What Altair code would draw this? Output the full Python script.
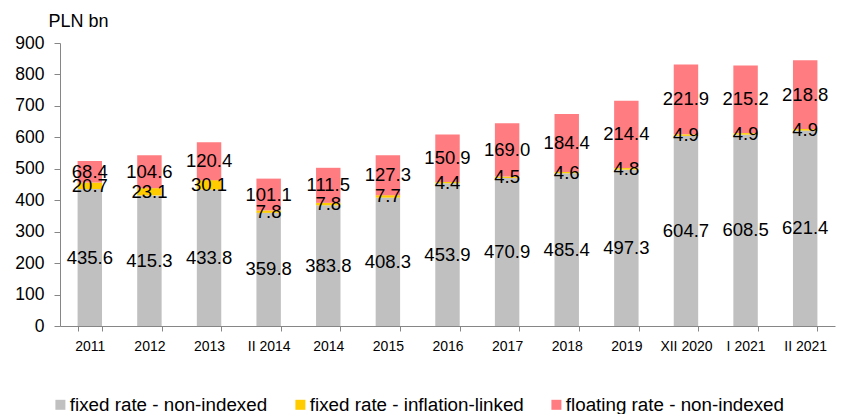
import altair as alt
import pandas as pd

categories = ["2011", "2012", "2013", "II 2014", "2014", "2015", "2016", "2017",
              "2018", "2019", "XII 2020", "I 2021", "II 2021"]
series_names = ["fixed rate - non-indexed", "fixed rate - inflation-linked",
                "floating rate - non-indexed"]
fixed_non_indexed = [435.6, 415.3, 433.8, 359.8, 383.8, 408.3, 453.9, 470.9,
                     485.4, 497.3, 604.7, 608.5, 621.4]
fixed_inflation = [20.7, 23.1, 30.1, 7.8, 7.8, 7.7, 4.4, 4.5, 4.6, 4.8, 4.9, 4.9, 4.9]
floating_non_indexed = [68.4, 104.6, 120.4, 101.1, 111.5, 127.3, 150.9, 169.0,
                        184.4, 214.4, 221.9, 215.2, 218.8]
colors = ["#C0C0C0", "#FFCC00", "#FF7C80"]
y_ticks = [0, 100, 200, 300, 400, 500, 600, 700, 800, 900]

rows = []
for s_idx, (name, vals) in enumerate(zip(series_names,
                                         [fixed_non_indexed, fixed_inflation, floating_non_indexed])):
    for c, v in zip(categories, vals):
        rows.append({"category": c, "series": name, "value": v, "order": s_idx})
df = pd.DataFrame(rows)

FONT = "Liberation Sans"

x_scale = alt.Scale(paddingInner=0.59, paddingOuter=0.295)
x_axis = alt.Axis(labelAngle=0, labelFontSize=14, labelColor="#000000",
                  labelPadding=8, tickBand="extent", tickSize=5,
                  domainColor="#868686", tickColor="#868686",
                  labelFont=FONT, labelOverlap=False, grid=False)

y_scale = alt.Scale(domain=[0, 900], nice=False)
y_axis = alt.Axis(values=y_ticks, grid=False, title="PLN bn",
                  titleAngle=0, titleX=-12, titleY=-17, titleAlign="left",
                  titleBaseline="alphabetic", titleFontSize=18,
                  titleFontWeight="normal", titleColor="#000000", titleFont=FONT,
                  labelFontSize=17.5, labelColor="#000000", labelPadding=10,
                  labelOverlap=False, labelFlush=False,
                  tickSize=6, domainColor="#868686", tickColor="#868686",
                  labelFont=FONT)

bars = alt.Chart(df).mark_bar().encode(
    x=alt.X("category:N", sort=categories, title=None, scale=x_scale, axis=x_axis),
    y=alt.Y("value:Q", stack="zero", scale=y_scale, axis=y_axis, title="PLN bn"),
    color=alt.Color("series:N", sort=series_names,
                    scale=alt.Scale(domain=series_names, range=colors),
                    legend=alt.Legend(title=None, orient="none", legendX=-9, legendY=352,
                                      direction="horizontal", columns=3,
                                      symbolType="square", symbolSize=100,
                                      symbolStrokeWidth=0, labelFontSize=18.8,
                                      labelFont=FONT, labelColor="#000000",
                                      columnPadding=23, labelOffset=0,
                                      labelLimit=400)),
    order=alt.Order("order:Q", sort="ascending"),
)

labels = alt.Chart(df).transform_stack(
    stack="value", groupby=["category"], as_=["v0", "v1"],
    sort=[alt.SortField("order", order="ascending")]
).transform_calculate(
    mid="(datum.v0 + datum.v1) / 2"
).mark_text(fontSize=18.5, font=FONT, color="#000000", baseline="middle",
            align="center").encode(
    x=alt.X("category:N", sort=categories, title=None, scale=x_scale, axis=x_axis),
    y=alt.Y("mid:Q", scale=y_scale, axis=y_axis, title="PLN bn"),
    text=alt.Text("value:Q", format=".1f"),
)

chart = alt.layer(bars, labels).properties(
    width=775, height=283,
    autosize=alt.AutoSizeParams(type="none"),
    padding={"left": 52, "top": 35, "right": 9, "bottom": 89},
    view=alt.ViewBackground(strokeOpacity=0, strokeWidth=0),
).configure(
    font=FONT,
    view=alt.ViewConfig(strokeOpacity=0, strokeWidth=0),
    style={"cell": {"strokeOpacity": 0, "strokeWidth": 0}},
).configure_axis(grid=False)

chart.save("out.html", embed_options={"renderer": "svg", "actions": False})
